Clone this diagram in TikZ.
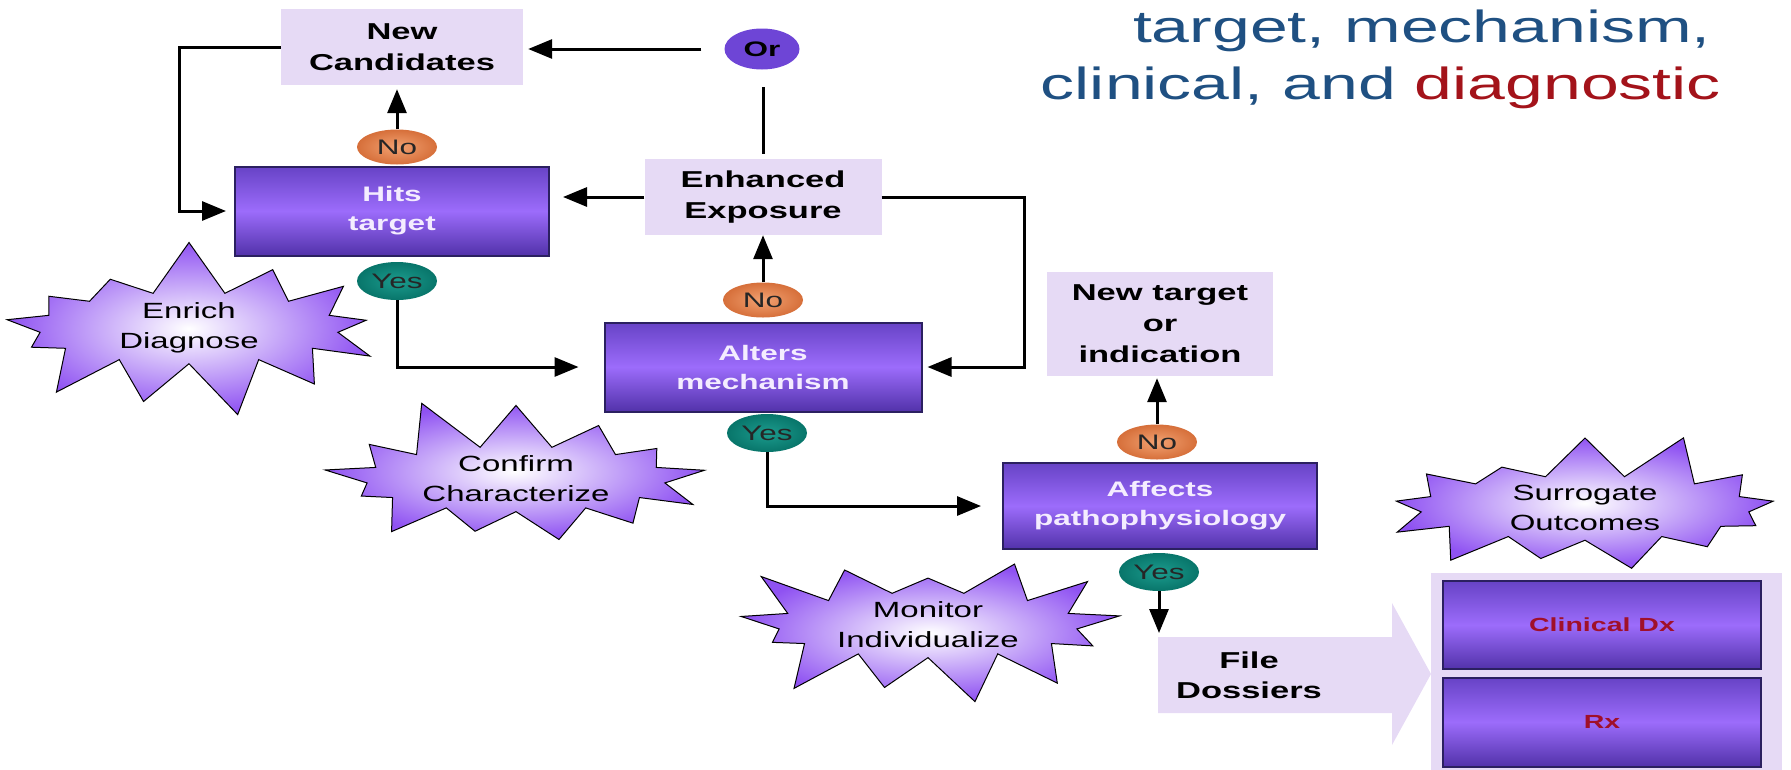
\documentclass[tikz,border=0pt]{standalone}
\usepackage{fontspec}
\setmainfont{Liberation Sans}[FakeStretch=1.5]
\newfontfamily\titlefont{Liberation Sans}[FakeStretch=1.51]
\usetikzlibrary{arrows.meta,positioning,shapes.geometric,shapes.symbols}
\definecolor{lav}{HTML}{E6DAF5}
\definecolor{ptop}{HTML}{6743C6}
\definecolor{pmid}{HTML}{9C6CFB}
\definecolor{pbot}{HTML}{5232AA}
\definecolor{pedge}{HTML}{2B2060}
\definecolor{ptext}{HTML}{F4ECFF}
\definecolor{noin}{HTML}{F2A272}
\definecolor{noout}{HTML}{D66F3A}
\definecolor{yesin}{HTML}{1C9C8E}
\definecolor{yesout}{HTML}{08756A}
\definecolor{orfill}{HTML}{6E45D6}
\definecolor{burst}{HTML}{8F52F2}
\definecolor{titleblue}{HTML}{1F5082}
\definecolor{titlered}{HTML}{A3131A}
\definecolor{dxred}{HTML}{A0102A}

\begin{document}
\begin{tikzpicture}[x=1pt,y=-1pt,
  every node/.style={inner sep=0pt},
  notebox/.style={fill=lav,align=center,font=\fontsize{23}{31}\selectfont\bfseries},
  testbox/.style={draw=pedge,line width=2pt,top color=ptop,bottom color=pbot,middle color=pmid,
    text=ptext,align=center,minimum width=314pt,minimum height=88pt,font=\fontsize{21}{29}\selectfont\bfseries},
  badge/.style={ellipse,minimum width=80pt,minimum height=35pt,text=black!85,font=\fontsize{21}{21}\selectfont},
  nobadge/.style={badge,inner color=noin,outer color=noout},
  yesbadge/.style={badge,inner color=yesin,outer color=yesout,minimum height=38pt},
  burst/.style={starburst,starburst points=13,starburst point height=55pt,draw=black,line width=1pt,
    inner color=white,outer color=burst,minimum width=410pt,minimum height=172pt,
    align=center,font=\fontsize{22}{30}\selectfont},
  conn/.style={line width=3pt},
  arr/.style={conn,-{Triangle[length=24pt,width=19pt]}}]
  \useasboundingbox (0,0) rectangle (1791,769);

  \node[anchor=base east,font=\titlefont\fontsize{45}{54}\selectfont,text=titleblue] (title1) at (1711,42) {target, mechanism,};
  \node[anchor=base east,font=\titlefont\fontsize{45}{54}\selectfont,text=titleblue] (title2) at (1721,99) {clinical, and \textcolor{titlered}{diagnostic}};

  \node[notebox,minimum width=242pt,minimum height=76pt] (newcand) at (402,47) {New\\Candidates};
  \node[ellipse,fill=orfill,minimum width=75pt,minimum height=41pt,font=\fontsize{21}{21}\selectfont\bfseries] (orn) at (762,49) {Or};
  \node[testbox,minimum height=89pt] (hits) at (392,211) {Hits\\target};
  \node[nobadge] (no1) at (397,147) {No};
  \node[yesbadge] (yes1) at (397,281) {Yes};
  \node[notebox,minimum width=237pt,minimum height=76pt] (enh) at (763,197) {Enhanced\\Exposure};
  \node[testbox,minimum width=317pt,minimum height=89pt] (alters) at (763,367) {Alters\\mechanism};
  \node[nobadge] (no2) at (763,300) {No};
  \node[yesbadge] (yes2) at (767,433) {Yes};
  \node[notebox,minimum width=226pt,minimum height=104pt] (newtgt) at (1160,324) {New target\\or\\indication};
  \node[testbox,minimum height=86pt] (affects) at (1160,506) {Affects\\pathophysiology};
  \node[nobadge] (no3) at (1157,442) {No};
  \node[yesbadge] (yes3) at (1159,572) {Yes};

  \fill[lav] (1158,637) -- (1392,637) -- (1392,603) -- (1431,674) -- (1392,745) -- (1392,713) -- (1158,713) -- cycle;
  \node[align=center,font=\fontsize{23}{30}\selectfont\bfseries] (file) at (1249,675) {File\\Dossiers};
  \coordinate (filetop) at (1160,637);

  \node[fill=lav,minimum width=351pt,minimum height=197pt] (panel) at (1606,671) {};
  \node[testbox,minimum width=318pt,text=dxred,font=\fontsize{19}{19}\selectfont\bfseries] (dx) at (1602,625) {Clinical Dx};
  \node[testbox,minimum width=318pt,minimum height=89pt,text=dxred,font=\fontsize{19}{19}\selectfont\bfseries] (rx) at (1602,722) {Rx};

  \draw[arr,shorten <=23pt,shorten >=5pt] (orn.west) -- (orn.west -| newcand.east);
  \draw[arr,shorten >=8pt] (newcand.west) -- ++(-101,0) |- (hits.west);
  \draw[arr,shorten >=4pt] (no1.north) -- (no1.north |- newcand.south);
  \draw[conn,shorten <=5pt,shorten >=17pt] (enh.north) -- (enh.north |- orn.south);
  \draw[arr,shorten >=13pt] (enh.west) -- (enh.west -| hits.east);
  \draw[arr,shorten >=5pt] (enh.east) -- ++(143,0) |- (alters.east);
  \draw[arr,shorten >=25pt] (yes1.south) |- (alters.west);
  \draw[arr] (no2.north) -- (no2.north |- enh.south);
  \draw[arr,shorten >=21pt] (yes2.south) |- (affects.west);
  \draw[arr,shorten >=2pt] (no3.north) -- (no3.north |- newtgt.south);
  \draw[arr,shorten >=4pt] (yes3.south) -- (yes3.south |- filetop);

  \node[burst,random starburst=7] (enrich) at (189,328) {Enrich\\Diagnose};
  \node[burst,random starburst=11] (confirm) at (516,479) {Confirm\\Characterize};
  \node[burst,random starburst=23] (monitor) at (928,625) {Monitor\\Individualize};
  \node[burst,minimum width=440pt,random starburst=31] (surrogate) at (1585,508) {Surrogate\\Outcomes};
\end{tikzpicture}
\end{document}
